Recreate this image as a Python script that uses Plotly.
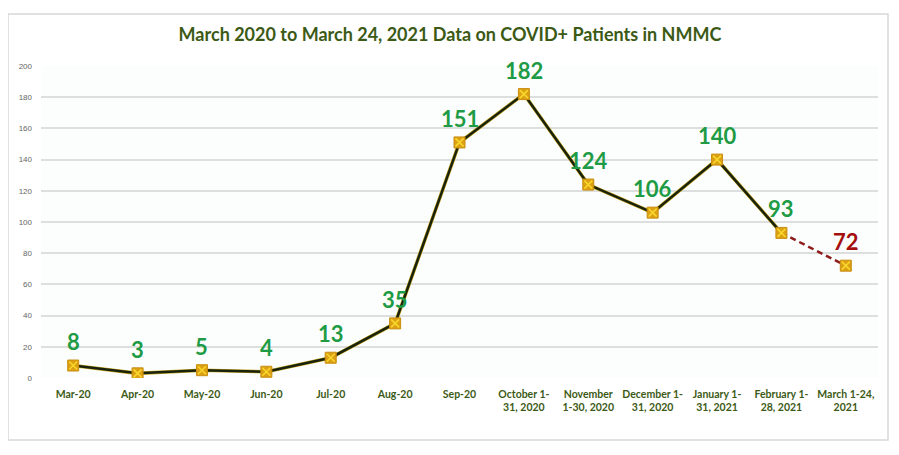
import plotly.graph_objects as go

categories = ["Mar-20", "Apr-20", "May-20", "Jun-20", "Jul-20", "Aug-20", "Sep-20",
              "October 1-<br>31, 2020", "November<br>1-30, 2020", "December 1-<br>31, 2020",
              "January 1-<br>31, 2021", "February 1-<br>28, 2021", "March 1-24,<br>2021"]
patients = [8, 3, 5, 4, 13, 35, 151, 182, 124, 106, 140, 93, 72]
y_ticks = [0, 20, 40, 60, 80, 100, 120, 140, 160, 180, 200]
title_text = "March 2020 to March 24, 2021 Data on COVID+ Patients in NMMC"

GREEN_LABEL = "#1E9B44"
RED_LABEL = "#A50F0F"

fig = go.Figure()

# solid portion
fig.add_trace(go.Scatter(
    x=categories[:-1], y=patients[:-1], mode="lines",
    line=dict(color="#C9A620", width=3.6), hoverinfo="skip", showlegend=False))
fig.add_trace(go.Scatter(
    x=categories[:-1], y=patients[:-1], mode="lines",
    line=dict(color="#18220C", width=2.5), showlegend=False))
# dashed final segment
fig.add_trace(go.Scatter(
    x=categories[-2:], y=patients[-2:], mode="lines",
    line=dict(color="#8E1B1B", width=2.5, dash="6px,4px"), showlegend=False))
# markers: orange square with yellow cross
fig.add_trace(go.Scatter(
    x=categories, y=patients, mode="markers",
    marker=dict(symbol="square", size=11, color="#DCA014",
                line=dict(color="#C98E10", width=1)),
    showlegend=False))
fig.add_trace(go.Scatter(
    x=categories, y=patients, mode="markers", hoverinfo="skip",
    marker=dict(symbol="x-thin-open", size=8, color="#F8D62A",
                line=dict(color="#F8D62A", width=1.6)),
    showlegend=False))

for i, (c, v) in enumerate(zip(categories, patients)):
    fig.add_annotation(
        x=c, y=v, text="<b>%d</b>" % v, showarrow=False,
        yshift=24, yanchor="middle", xanchor="center",
        font=dict(family="Lato, Open Sans, sans-serif", size=22,
                  color=RED_LABEL if i == len(patients) - 1 else GREEN_LABEL))

# outer chart frame
fig.add_shape(type="rect", xref="paper", yref="paper",
              x0=-33/837, x1=(888-41)/837, y0=-(440-378)/312, y1=(378-14)/312,
              line=dict(color="#D6D9D8", width=1.5), fillcolor="rgba(0,0,0,0)", layer="below")

fig.update_layout(
    width=891, height=447,
    paper_bgcolor="#FFFFFF", plot_bgcolor="#FBFEFD",
    margin=dict(l=33, r=21, t=58, b=77),
    title=dict(text="<b>" + title_text + "</b>", x=(450-8)/891, xanchor="center",
               y=1 - 27/447, yanchor="middle",
               font=dict(family="Lato, Open Sans, sans-serif", size=18, color="#3C5A16")),
    xaxis=dict(type="category", showgrid=False, zeroline=False, showline=False,
               ticks="", tickfont=dict(family="Lato, Open Sans, sans-serif", size=10.5,
                                         color="#3C5A16", weight="bold"),
               ticklabelstandoff=8,
               range=[-0.5, len(categories) - 0.5], fixedrange=True),
    yaxis=dict(range=[0, 200], tickvals=y_ticks, showgrid=True, gridcolor="#DCDFDE",
               gridwidth=1.5, zeroline=False, showline=False, ticks="",
               tickfont=dict(family="Liberation Sans, sans-serif", size=8, color="#666666"),
               ticklabelstandoff=8),
    font=dict(family="Lato, Open Sans, sans-serif"),
)

fig.write_html("out.html")
